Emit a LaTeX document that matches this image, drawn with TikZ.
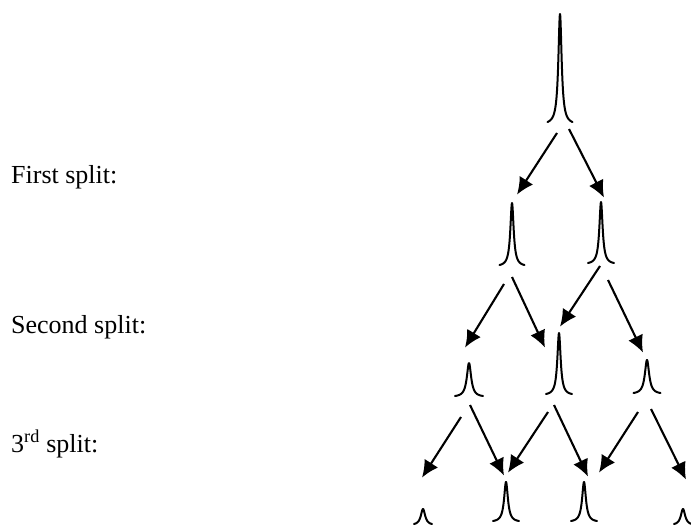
\documentclass[tikz,border=0pt]{standalone}
\usepackage{fontspec}
\setmainfont{Liberation Serif}
\usetikzlibrary{arrows.meta,calc}
\tikzset{
  peakline/.style={line width=2pt, line join=round, line cap=round},
  arr/.style={line width=2.1pt, -{Latex[length=17pt,width=16pt]}},
  lbl/.style={anchor=base west, inner sep=0pt, font=\fontsize{26}{30}\selectfont},
  peakbox/.style={draw=none, inner sep=0pt, anchor=south}
}
% #1 name, #2 cx, #3 base y, #4 height, #5 half width, #6 gamma
\newcommand\drawpeak[6]{%
  \node[peakbox, minimum width={2*#5 pt}, minimum height={#4 pt}] (#1) at (#2,#3) {};
  \draw[peakline] plot[domain={-#5}:{#5}, samples=161]
    ({#2+\x},{#3 - #4*((#6*#6)/(\x*\x+#6*#6) - (#6*#6)/(#5*#5+#6*#6))/(1 - (#6*#6)/(#5*#5+#6*#6))});
}
\begin{document}
\begin{tikzpicture}[x=1pt,y=-1pt]
\useasboundingbox (0,0) rectangle (691,525);
% labels
\node[lbl] (l1) at (11,183) {First split:};
\node[lbl] (l2) at (11,333) {Second split:};
\node[lbl] (l3) at (11,452) {3\textsuperscript{rd} split:};
% peaks
\drawpeak{p0}{560}{122}{108}{12.5}{2}
\drawpeak{p1a}{512}{265}{62}{12.5}{2}
\drawpeak{p1b}{601}{263}{61}{13}{2}
\drawpeak{p2a}{469}{396}{33}{14}{2.6}
\drawpeak{p2b}{559}{394}{61}{13}{2}
\drawpeak{p2c}{647}{393}{33}{13.5}{2.6}
\drawpeak{p3a}{423}{524}{15}{9}{2.6}
\drawpeak{p3b}{506}{521}{39}{13}{2.3}
\drawpeak{p3c}{584}{521}{39}{13}{2.3}
\drawpeak{p3d}{683}{524}{15}{9}{2.6}
% first split
\draw[arr] ($(p0.south)+(-3,11)$) -- ($(p1a.north)+(5,-8)$);
\draw[arr] ($(p0.south)+(9,7)$) -- ($(p1b.north)+(3,-4)$);
% second split
\draw[arr] ($(p1a.south)+(-8,19)$) -- ($(p2a.north)+(-4,-15)$);
\draw[arr] ($(p1a.south)+(0,12)$) -- ($(p2b.north)+(-14,15)$);
\draw[arr] ($(p1b.south)+(-1,3)$) -- ($(p2b.north)+(1,-6)$);
\draw[arr] ($(p1b.south)+(7,17)$) -- ($(p2c.north)+(-4,-7)$);
% third split
\draw[arr] ($(p2a.south)+(-8,21)$) -- ($(p3a.north)+(-1,-31)$);
\draw[arr] ($(p2a.south)+(1,9)$) -- ($(p3b.north)+(-2,-6)$);
\draw[arr] ($(p2b.south)+(-11,18)$) -- ($(p3b.north)+(2,-9)$);
\draw[arr] ($(p2b.south)+(-5,11)$) -- ($(p3c.north)+(4,-5)$);
\draw[arr] ($(p2c.south)+(-9,19)$) -- ($(p3c.north)+(15,-9)$);
\draw[arr] ($(p2c.south)+(4,16)$) -- ($(p3d.north)+(3,-29)$);
\end{tikzpicture}
\end{document}
